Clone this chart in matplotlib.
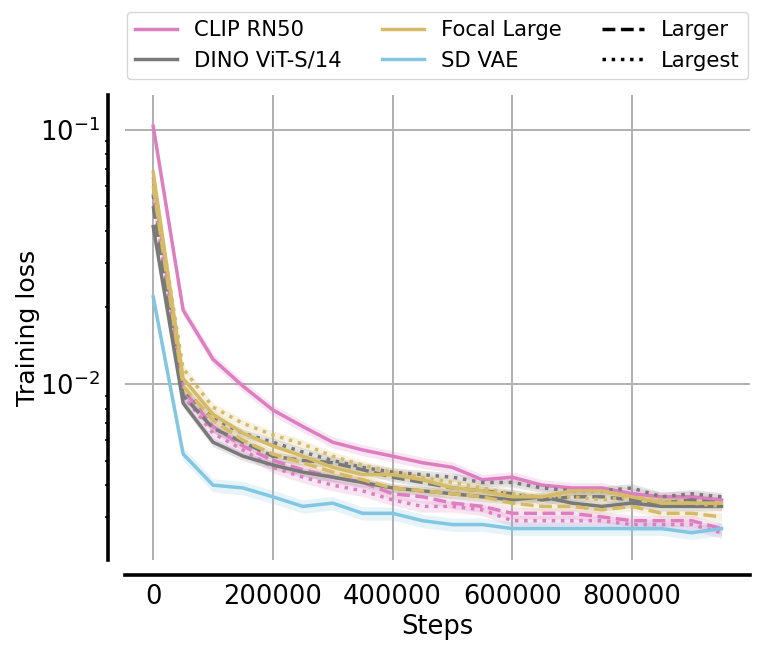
import matplotlib
matplotlib.use('Agg')
import matplotlib.pyplot as plt
from matplotlib.lines import Line2D
import numpy as np

# training steps (x)
steps = [0, 50000, 100000, 150000, 200000, 250000, 300000, 350000, 400000, 450000,
         500000, 550000, 600000, 650000, 700000, 750000, 800000, 850000, 900000, 950000]

# training loss
clip_large    = [0.103, 0.0195, 0.0125, 0.0098, 0.0079, 0.0068, 0.0059, 0.0055, 0.0052, 0.0049,
                 0.0047, 0.0042, 0.0043, 0.0040, 0.0039, 0.0039, 0.0037, 0.0036, 0.0036, 0.0035]
clip_larger   = [0.065, 0.0095, 0.0068, 0.0057, 0.0050, 0.0046, 0.0043, 0.0041, 0.0037, 0.0036,
                 0.0034, 0.0033, 0.0031, 0.0031, 0.0031, 0.0030, 0.0029, 0.0029, 0.0029, 0.0027]
clip_largest  = [0.056, 0.0090, 0.0064, 0.0055, 0.0047, 0.0043, 0.0040, 0.0038, 0.0035, 0.0033,
                 0.0033, 0.0032, 0.0029, 0.0029, 0.0029, 0.0029, 0.0028, 0.0028, 0.0028, 0.0026]
dino_large    = [0.0415, 0.0084, 0.0059, 0.0052, 0.0048, 0.0045, 0.0043, 0.0041, 0.0039, 0.0038,
                 0.0037, 0.0036, 0.0035, 0.0036, 0.0034, 0.0033, 0.0034, 0.0033, 0.0033, 0.0033]
dino_larger   = [0.050, 0.0090, 0.0067, 0.0059, 0.0052, 0.0050, 0.0049, 0.0046, 0.0043, 0.0041,
                 0.0039, 0.0038, 0.0037, 0.0035, 0.0036, 0.0036, 0.0035, 0.0034, 0.0035, 0.0034]
dino_largest  = [0.055, 0.0095, 0.0073, 0.0064, 0.0059, 0.0054, 0.0050, 0.0047, 0.0045, 0.0044,
                 0.0043, 0.0041, 0.0041, 0.0039, 0.0038, 0.0038, 0.0039, 0.0036, 0.0037, 0.0036]
focal_large   = [0.068, 0.0105, 0.0076, 0.0064, 0.0057, 0.0052, 0.0047, 0.0044, 0.0044, 0.0042,
                 0.0039, 0.0038, 0.0036, 0.0036, 0.0038, 0.0038, 0.0036, 0.0034, 0.0034, 0.0034]
focal_larger  = [0.060, 0.0098, 0.0072, 0.0060, 0.0053, 0.0049, 0.0045, 0.0042, 0.0039, 0.0038,
                 0.0037, 0.0036, 0.0034, 0.0033, 0.0033, 0.0032, 0.0033, 0.0031, 0.0031, 0.0030]
focal_largest = [0.063, 0.0115, 0.0081, 0.0070, 0.0063, 0.0058, 0.0052, 0.0048, 0.0045, 0.0043,
                 0.0041, 0.0039, 0.0037, 0.0036, 0.0036, 0.0035, 0.0036, 0.0035, 0.0034, 0.0033]
sdvae_large   = [0.022, 0.0053, 0.0040, 0.0039, 0.0036, 0.0033, 0.0034, 0.0031, 0.0031, 0.0029,
                 0.0028, 0.0028, 0.0027, 0.0027, 0.0027, 0.0027, 0.0027, 0.0027, 0.0026, 0.0027]

models = ['CLIP RN50', 'DINO ViT-S/14', 'Focal Large', 'SD VAE']
colors = {'CLIP RN50': '#dc7ec0', 'DINO ViT-S/14': '#797979',
          'Focal Large': '#d5bb67', 'SD VAE': '#82c6e2'}
styles = {'Large': '-', 'Larger': '--', 'Largest': ':'}

runs = [
  ('CLIP RN50', 'Large', clip_large),
  ('CLIP RN50', 'Larger', clip_larger),
  ('CLIP RN50', 'Largest', clip_largest),
  ('DINO ViT-S/14', 'Large', dino_large),
  ('DINO ViT-S/14', 'Larger', dino_larger),
  ('DINO ViT-S/14', 'Largest', dino_largest),
  ('Focal Large', 'Large', focal_large),
  ('Focal Large', 'Larger', focal_larger),
  ('Focal Large', 'Largest', focal_largest),
  ('SD VAE', 'Large', sdvae_large),
]
# relative half-width of the shaded band for each run
band = [0.05, 0.05, 0.05, 0.04, 0.04, 0.04, 0.04, 0.04, 0.04, 0.06]

fig = plt.figure(figsize=(7.61, 6.49), dpi=100)
ax = fig.add_axes([0.164, 0.137, 0.8215, 0.717])

for (model, size, vals), b in zip(runs, band):
  y = np.array(vals)
  ax.fill_between(steps, y * (1 - b), y * (1 + b), color=colors[model], alpha=0.2, lw=0)
  ax.plot(steps, y, color=colors[model], ls=styles[size], lw=2.5)

ax.set_yscale('log')
ax.set_xlim(-47500, 997500)
ax.set_ylim(0.00203, 0.137)
ax.set_xticks([0, 200000, 400000, 600000, 800000])
ax.set_xticklabels(['0', '200000', '400000', '600000', '800000'])
ax.grid(True, which='major', color='#b0b0b0', lw=1.4)
ax.set_axisbelow(True)

for s in ['top', 'right']:
  ax.spines[s].set_visible(False)
ax.spines['left'].set_position(('outward', 12))
ax.spines['bottom'].set_position(('outward', 11))
ax.spines['left'].set_linewidth(2.6)
ax.spines['bottom'].set_linewidth(2.6)

ax.tick_params(axis='both', which='major', length=0, labelsize=18.5, pad=6)
ax.tick_params(axis='y', which='minor', length=2.5, width=1.2)

ax.set_xlabel('Steps', fontsize=18.5, labelpad=3)
ax.set_ylabel('Training loss', fontsize=18.2, labelpad=0)

handles = [
  Line2D([], [], color=colors['CLIP RN50'], lw=2.5),
  Line2D([], [], color=colors['DINO ViT-S/14'], lw=2.5),
  Line2D([], [], color=colors['Focal Large'], lw=2.5),
  Line2D([], [], color=colors['SD VAE'], lw=2.5),
  Line2D([], [], color='black', ls='--', lw=2.5),
  Line2D([], [], color='black', ls=':', lw=2.5),
]
labels = models + ['Larger', 'Largest']
ax.legend(handles, labels, loc='lower center', bbox_to_anchor=(0.5, 1.02), ncol=3,
          fontsize=15.2, frameon=True, edgecolor='#cccccc', columnspacing=1.9,
          borderaxespad=0.3)

fig.savefig('out.png', dpi=100)
